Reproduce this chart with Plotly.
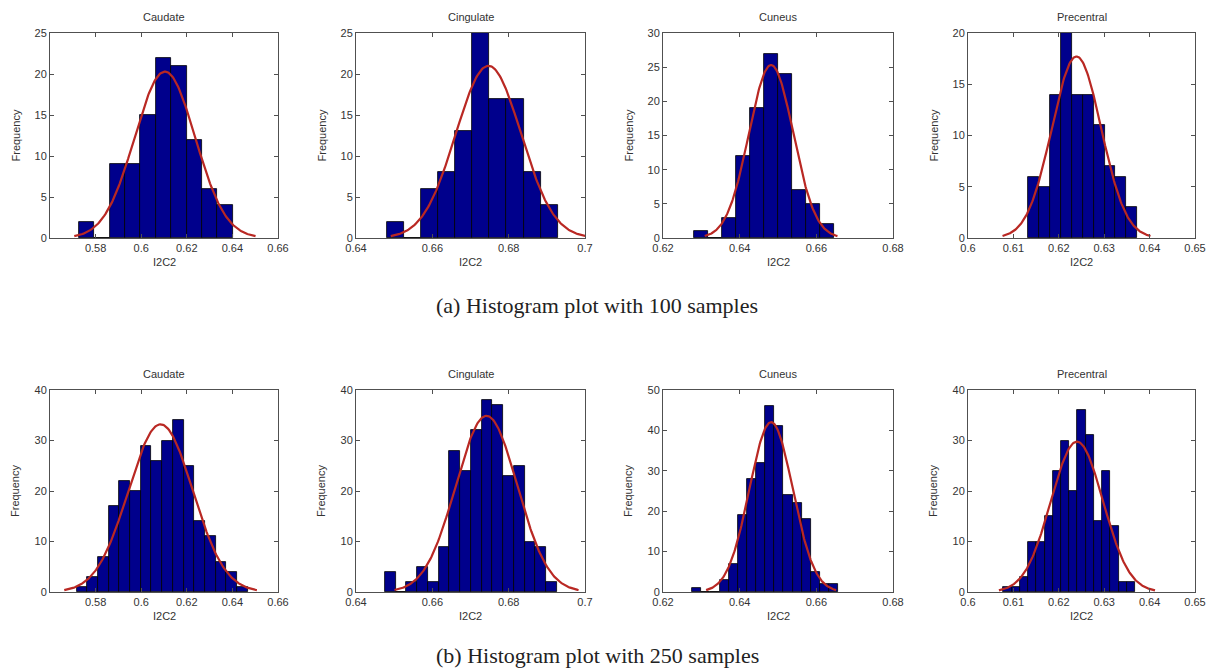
import numpy as np
import plotly.graph_objects as go

# ---------------- data ----------------
regions = ["Caudate", "Cingulate", "Cuneus", "Precentral"]

# histogram counts, 100 samples (10 bins)
caudate_100 = [2, 0, 9, 9, 15, 22, 21, 12, 6, 4]
cingulate_100 = [2, 0, 6, 8, 13, 25, 17, 17, 8, 4]
cuneus_100 = [1, 0, 3, 12, 19, 27, 24, 7, 5, 2]
precentral_100 = [6, 5, 14, 20, 14, 14, 11, 7, 6, 3]

# histogram counts, 250 samples (16 bins)
caudate_250 = [1, 3, 7, 17, 22, 20, 29, 26, 30, 34, 25, 14, 11, 6, 4, 1]
cingulate_250 = [4, 0, 2, 5, 2, 9, 28, 24, 32, 38, 37, 23, 25, 10, 9, 2]
cuneus_250 = [1, 0, 0, 3, 7, 19, 28, 32, 46, 41, 24, 22, 18, 5, 2, 2]
precentral_250 = [1, 1, 3, 10, 10, 15, 24, 30, 20, 36, 31, 14, 24, 13, 2, 2]

# data span of the bins (min, max of I2C2)
caudate_100_span = [0.5727, 0.6401]
cingulate_100_span = [0.6480, 0.6929]
cuneus_100_span = [0.6280, 0.6646]
precentral_100_span = [0.6132, 0.6373]
caudate_250_span = [0.5717, 0.6467]
cingulate_250_span = [0.6476, 0.6926]
cuneus_250_span = [0.6276, 0.6657]
precentral_250_span = [0.6078, 0.6368]

# fitted normal (mu, sigma)
caudate_100_fit = [0.6104, 0.01325]
cingulate_100_fit = [0.6747, 0.00853]
cuneus_100_fit = [0.6482, 0.00577]
precentral_100_fit = [0.6239, 0.00543]
caudate_250_fit = [0.6085, 0.01408]
cingulate_250_fit = [0.6742, 0.00804]
cuneus_250_fit = [0.6482, 0.00565]
precentral_250_fit = [0.6240, 0.00573]

# axes
x_ranges = [[0.56, 0.66], [0.64, 0.70], [0.62, 0.68], [0.60, 0.65]]
x_ticks = [
    [0.58, 0.60, 0.62, 0.64, 0.66],
    [0.64, 0.66, 0.68, 0.70],
    [0.62, 0.64, 0.66, 0.68],
    [0.60, 0.61, 0.62, 0.63, 0.64, 0.65],
]
x_ticktext = [
    ["0.58", "0.6", "0.62", "0.64", "0.66"],
    ["0.64", "0.66", "0.68", "0.7"],
    ["0.62", "0.64", "0.66", "0.68"],
    ["0.6", "0.61", "0.62", "0.63", "0.64", "0.65"],
]
y_max_100 = [25, 25, 30, 20]
y_step_100 = [5, 5, 5, 5]
y_max_250 = [40, 40, 50, 40]
y_step_250 = [10, 10, 10, 10]

captions = ["(a) Histogram plot with 100 samples", "(b) Histogram plot with 250 samples"]
x_label = "I2C2"
y_label = "Frequency"

rows = [
    dict(counts=[caudate_100, cingulate_100, cuneus_100, precentral_100],
         spans=[caudate_100_span, cingulate_100_span, cuneus_100_span, precentral_100_span],
         fits=[caudate_100_fit, cingulate_100_fit, cuneus_100_fit, precentral_100_fit],
         ymax=y_max_100, ystep=y_step_100),
    dict(counts=[caudate_250, cingulate_250, cuneus_250, precentral_250],
         spans=[caudate_250_span, cingulate_250_span, cuneus_250_span, precentral_250_span],
         fits=[caudate_250_fit, cingulate_250_fit, cuneus_250_fit, precentral_250_fit],
         ymax=y_max_250, ystep=y_step_250),
]

# ---------------- layout geometry (pixels, page coordinates) ----------------
OFF = 8                      # default page body margin
W, H = 1214 - OFF, 670 - OFF  # figure size
col_px = [(50, 278), (356, 585), (663, 893), (968, 1195)]
row_px = [(33, 238), (390, 592)]
caption_y = [305, 655]


def px_x(p):
    return (p - OFF) / W


def px_y(p):
    return 1 - (p - OFF) / H


BAR = "rgb(0,0,140)"
CURVE = "rgb(185,40,35)"
AXC = "#505050"
TXT = "#333333"
FONT = "Liberation Sans, Arial, sans-serif"

fig = go.Figure()
annotations = []
layout_axes = {}

k = 0
for r, row in enumerate(rows):
    y0p, y1p = row_px[r]
    for c in range(4):
        k += 1
        xa = "x" if k == 1 else f"x{k}"
        ya = "y" if k == 1 else f"y{k}"
        counts = row["counts"][c]
        lo, hi = row["spans"][c]
        nb = len(counts)
        w = (hi - lo) / nb
        centers = [lo + w * (i + 0.5) for i in range(nb)]
        fig.add_trace(go.Bar(
            x=centers, y=counts, width=[w] * nb,
            marker=dict(color=BAR, line=dict(color="black", width=0.8)),
            xaxis=xa, yaxis=ya, showlegend=False,
        ))
        mu, sd = row["fits"][c]
        n = sum(counts)
        xs = np.linspace(mu - 3 * sd, mu + 3 * sd, 200)
        ys = n * w * np.exp(-0.5 * ((xs - mu) / sd) ** 2) / (sd * np.sqrt(2 * np.pi))
        fig.add_trace(go.Scatter(
            x=xs, y=ys, mode="lines", line=dict(color=CURVE, width=2.2),
            xaxis=xa, yaxis=ya, showlegend=False,
        ))

        x0p, x1p = col_px[c]
        key = "" if k == 1 else str(k)
        layout_axes["xaxis" + key] = dict(
            domain=[px_x(x0p), px_x(x1p)], anchor=ya, range=x_ranges[c],
            tickvals=x_ticks[c], ticktext=x_ticktext[c],
            ticks="inside", ticklen=4, tickcolor=AXC, mirror="ticks",
            showline=True, linecolor=AXC, linewidth=1, showgrid=False, zeroline=False,
            tickfont=dict(family=FONT, size=11, color=TXT), fixedrange=True,
            automargin=False,
        )
        layout_axes["yaxis" + key] = dict(
            domain=[px_y(y1p), px_y(y0p)], anchor=xa,
            range=[0, row["ymax"][c]], dtick=row["ystep"][c], tick0=0,
            ticks="inside", ticklen=4, tickcolor=AXC, mirror="ticks",
            showline=True, linecolor=AXC, linewidth=1, showgrid=False, zeroline=False,
            tickfont=dict(family=FONT, size=11, color=TXT), fixedrange=True,
            automargin=False,
        )
        # title
        annotations.append(dict(
            text=regions[c], x=px_x((x0p + x1p) / 2), y=px_y(y0p - 16),
            xref="paper", yref="paper", showarrow=False,
            font=dict(family=FONT, size=11, color=TXT), xanchor="center", yanchor="middle",
        ))
        # x label
        annotations.append(dict(
            text=x_label, x=px_x((x0p + x1p) / 2), y=px_y(y1p + 24),
            xref="paper", yref="paper", showarrow=False,
            font=dict(family=FONT, size=11, color=TXT), xanchor="center", yanchor="middle",
        ))
        # y label
        annotations.append(dict(
            text=y_label, x=px_x(x0p - 35), y=px_y((y0p + y1p) / 2),
            xref="paper", yref="paper", showarrow=False, textangle=-90,
            font=dict(family=FONT, size=11, color=TXT), xanchor="center", yanchor="middle",
        ))
    annotations.append(dict(
        text=captions[r], x=px_x(597), y=px_y(caption_y[r]),
        xref="paper", yref="paper", showarrow=False,
        font=dict(family="Liberation Serif, Times New Roman, serif", size=22, color="#222"),
        xanchor="center", yanchor="middle",
    ))

fig.update_layout(
    width=W, height=H, margin=dict(l=0, r=0, t=0, b=0),
    paper_bgcolor="white", plot_bgcolor="white",
    bargap=0, annotations=annotations, **layout_axes,
)

fig.write_html("out.html")
